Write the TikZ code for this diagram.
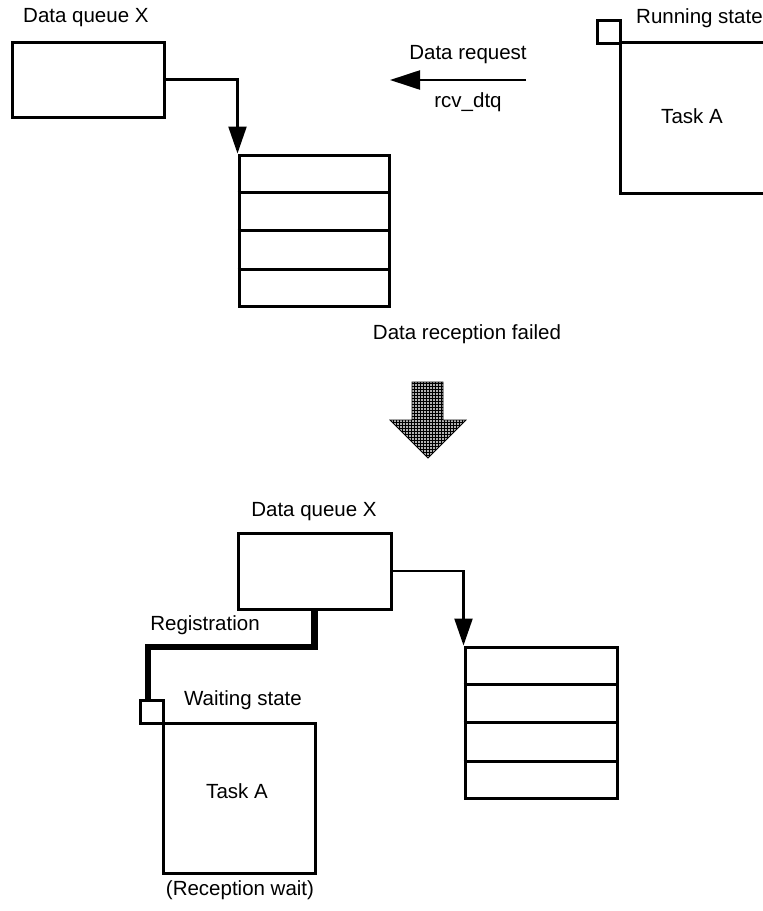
\documentclass[tikz,border=0pt]{standalone}
\usepackage{fontspec}
\setmainfont{Liberation Sans}
\usetikzlibrary{arrows.meta,calc,patterns}
\begin{document}
\begin{tikzpicture}[x=1pt,y=-1pt,
  lbl/.style={font=\fontsize{20.5}{24}\selectfont, inner sep=0pt},
  frame/.style={draw, line width=3pt, inner sep=0pt, fill=white},
  conn/.style={line width=2.3pt, -{Triangle[length=27pt,width=18pt]}},
  reg/.style={line width=6.5pt},
  bigarrow/.style={draw=black, line width=0.8pt, fill=gray!60,
    postaction={pattern=grid, pattern color=black}}]
\clip (0,0) rectangle (763,911);
\fill[white] (0,0) rectangle (763,911);

% ---------- before: running task issues rcv_dtq ----------
\node[frame, minimum width=152pt, minimum height=75pt] (dq1) at (88,79.5) {};
\node[lbl, anchor=west] (dq1lbl) at (23,18) {Data queue X};

\node[frame, minimum width=150pt, minimum height=151pt] (q1) at (314,230.5) {};
\foreach \f in {0.25,0.5,0.75}
  \draw[line width=3pt] ($(q1.north west)!\f!(q1.south west)$) -- ($(q1.north east)!\f!(q1.south east)$);

\draw[conn] (dq1.east) -| (q1.north west);

\node[frame, minimum width=180pt, minimum height=151pt] (ta1) at (710,117.5) {};
\node[frame, minimum width=23pt, minimum height=23pt] (rs) at (608.5,31.5) {};
\node[lbl, anchor=west] (rslbl) at (636,18) {Running state};
\node[lbl] (ta1lbl) at (692,116) {Task A};

\coordinate (reqstart) at (526,80);
\coordinate (reqend) at (390,80);
\draw[line width=2.3pt, -{Triangle[length=30pt,width=19pt]}] (reqstart) -- (reqend);
\node[lbl] (reqlbl) at (468,55) {Data request};
\node[lbl] (svc) at (468,102) {rcv\_dtq};

% ---------- transition ----------
\node[lbl] (faillbl) at (467,334) {Data reception failed};
\draw[bigarrow] (412,382) -- (443,382) -- (443,420) -- (466,420)
  -- (428,458) -- (390,420) -- (412,420) -- cycle;

% ---------- after: task queued in reception wait ----------
\node[frame, minimum width=153pt, minimum height=76pt] (dq2) at (314.5,571) {};
\node[lbl] (dq2lbl) at (314,512) {Data queue X};

\node[frame, minimum width=152pt, minimum height=151pt] (q2) at (541,722.5) {};
\foreach \f in {0.25,0.5,0.75}
  \draw[line width=3pt] ($(q2.north west)!\f!(q2.south west)$) -- ($(q2.north east)!\f!(q2.south east)$);

\draw[conn] (dq2.east) -| (q2.north west);

\node[frame, minimum width=152pt, minimum height=150pt] (tb) at (239,798) {};
\node[frame, minimum width=23pt, minimum height=23pt] (ws) at (151.5,711.5) {};
\node[lbl] (wslbl) at (243,700) {Waiting state};
\node[lbl] (tblbl) at (237,791) {Task A};
\node[lbl] (waitlbl) at (240,890) {(Reception wait)};

\coordinate (regbend) at (148,647);
\draw[reg] (dq2.south) |- (regbend) -- (regbend |- ws.north);
\node[lbl] (reglbl) at (205,625) {Registration};
\end{tikzpicture}
\end{document}
